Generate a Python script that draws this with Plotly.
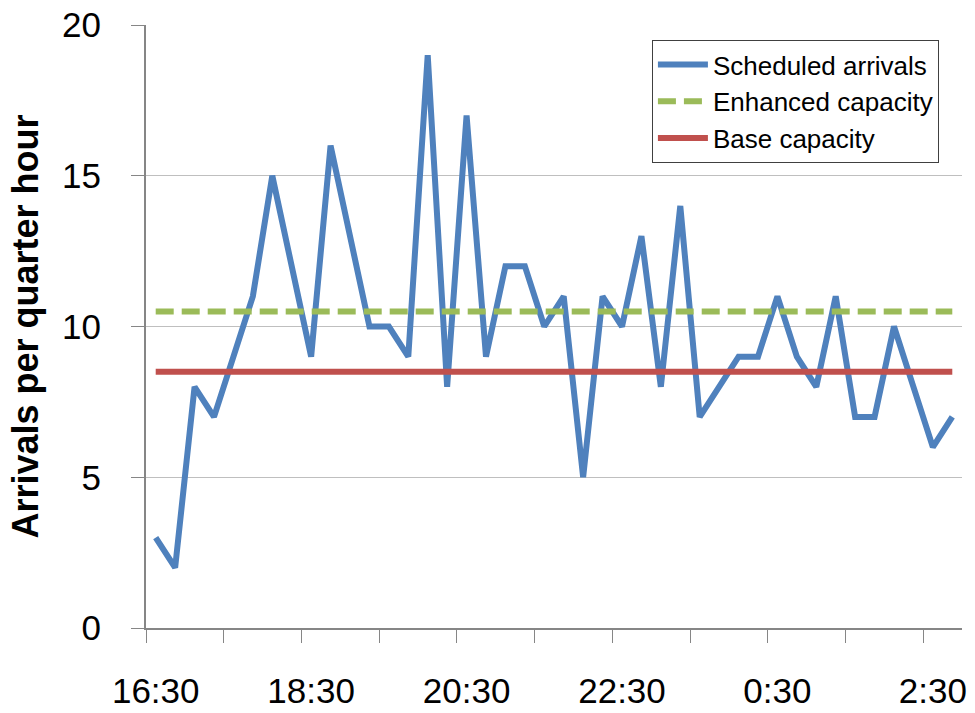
import plotly.graph_objects as go

# Quarter-hour arrival slots, 16:30 through 02:45
slots = [
    "16:30", "16:45", "17:00", "17:15", "17:30", "17:45", "18:00", "18:15",
    "18:30", "18:45", "19:00", "19:15", "19:30", "19:45", "20:00", "20:15",
    "20:30", "20:45", "21:00", "21:15", "21:30", "21:45", "22:00", "22:15",
    "22:30", "22:45", "23:00", "23:15", "23:30", "23:45", "0:00", "0:15",
    "0:30", "0:45", "1:00", "1:15", "1:30", "1:45", "2:00", "2:15",
    "2:30", "2:45",
]

scheduled_arrivals = [
    3, 2, 8, 7, 9, 11, 15, 12, 9, 16, 13, 10, 10, 9, 19, 8, 17, 9, 12, 12,
    10, 11, 5, 11, 10, 13, 8, 14, 7, 8, 9, 9, 11, 9, 8, 11, 7, 7, 10, 8, 6, 7,
]

enhanced_capacity = 10.5
base_capacity = 8.5

# Labels every two hours, tick marks on every hour boundary
label_slots = ["16:30", "18:30", "20:30", "22:30", "0:30", "2:30"]
hour_slots = ["16:30", "17:30", "18:30", "19:30", "20:30", "21:30",
              "22:30", "23:30", "0:30", "1:30", "2:30"]

x_pos = list(range(len(slots)))
label_pos = [slots.index(s) for s in label_slots]
hour_pos = [slots.index(s) - 0.5 for s in hour_slots]
x_range = [-0.5, len(slots) - 0.5]

FONT = "Liberation Sans, Arial, sans-serif"
AXIS_GREY = "#868686"

fig = go.Figure()

fig.add_trace(go.Scatter(
    x=x_pos, y=scheduled_arrivals, mode="lines", name="Scheduled arrivals",
    line=dict(color="#4F81BD", width=6),
))
fig.add_trace(go.Scatter(
    x=x_pos, y=[enhanced_capacity] * len(slots), mode="lines",
    name="Enhanced capacity",
    line=dict(color="#9BBB59", width=6, dash="18px,8px"),
))
fig.add_trace(go.Scatter(
    x=x_pos, y=[base_capacity] * len(slots), mode="lines",
    name="Base capacity",
    line=dict(color="#C0504D", width=6),
))

fig.update_layout(
    width=975, height=713,
    margin=dict(l=146, r=13, t=25, b=85),
    paper_bgcolor="white", plot_bgcolor="white",
    font=dict(family=FONT, color="black"),
    showlegend=True,
    legend=dict(
        x=0.62, y=0.975, xanchor="left", yanchor="top",
        bgcolor="white", bordercolor="#404040", borderwidth=1,
        font=dict(family=FONT, size=26, color="black"),
        tracegroupgap=0, itemwidth=50,
    ),
    xaxis=dict(
        range=x_range, tickmode="array",
        tickvals=label_pos, ticktext=label_slots,
        ticks="", showgrid=False, zeroline=False, automargin=False,
        showline=True, linecolor=AXIS_GREY, linewidth=2,
        tickfont=dict(family=FONT, size=35, color="black"),
        ticklabelstandoff=31,
        minor=dict(
            tickmode="array", tickvals=hour_pos,
            ticks="outside", ticklen=13, tickwidth=1, tickcolor=AXIS_GREY,
            showgrid=False,
        ),
    ),
    yaxis=dict(
        range=[0, 20], tickmode="array", tickvals=[0, 5, 10, 15, 20],
        ticks="outside", ticklen=13, tickwidth=1, tickcolor=AXIS_GREY,
        showgrid=True, gridcolor="#BFBFBF", gridwidth=1, zeroline=False,
        automargin=False,
        showline=True, linecolor=AXIS_GREY, linewidth=2,
        tickfont=dict(family=FONT, size=35, color="black"),
        ticklabelstandoff=23,
        title=dict(text="<b>Arrivals per quarter hour</b>",
                   font=dict(family=FONT, size=36, color="black"),
                   standoff=12),
    ),
)

fig.write_html("out.html")
